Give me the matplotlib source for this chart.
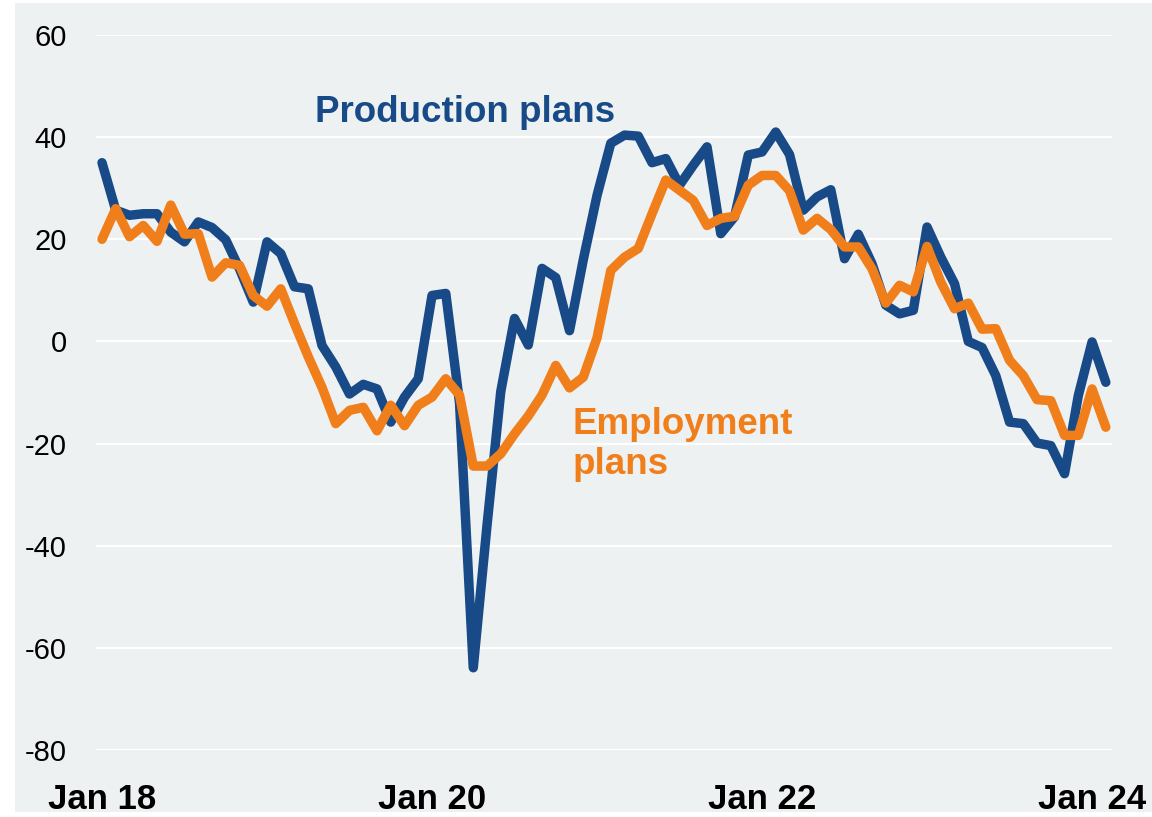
import numpy as np
import matplotlib
matplotlib.use('Agg')
import matplotlib.pyplot as plt
from matplotlib.patches import Rectangle

# Monthly balances, Jan 2018 - Feb 2024
production = [35.0, 25.7, 24.7, 25.0, 25.0, 21.4, 19.5, 23.4, 22.3, 19.9, 14.2, 7.7,
              19.5, 17.2, 10.7, 10.3, -0.8, -5.0, -10.3, -8.4, -9.3, -15.8, -10.9, -7.3,
              9.0, 9.4, -12.0, -63.9, -36.0, -9.8, 4.5, -0.7, 14.3, 12.5, 2.1, 16.0,
              28.6, 38.8, 40.4, 40.2, 35.0, 35.8, 30.6, 34.5, 38.1, 21.1, 24.4, 36.5,
              37.1, 41.0, 36.6, 25.7, 28.3, 29.7, 16.2, 21.0, 15.2, 7.1, 5.4, 6.1,
              22.4, 16.5, 11.3, 0.0, -1.2, -6.7, -15.8, -16.1, -19.9, -20.4, -25.9, -10.6,
              -0.1, -8.0]
employment = [20.0, 26.0, 20.5, 22.7, 19.6, 26.7, 21.0, 21.1, 12.6, 15.4, 14.9, 9.0,
              6.9, 10.3, 3.5, -3.0, -9.0, -16.1, -13.5, -12.9, -17.5, -12.5, -16.5, -12.5,
              -10.9, -7.3, -10.5, -24.4, -24.4, -22.0, -18.1, -14.6, -10.5, -4.7, -9.1, -7.0,
              0.7, 13.9, 16.5, 18.2, 25.0, 31.6, 29.6, 27.6, 22.7, 24.1, 24.5, 30.6,
              32.5, 32.5, 29.5, 21.8, 24.1, 21.9, 18.5, 18.5, 14.2, 7.5, 11.0, 9.7,
              18.6, 11.6, 6.4, 7.5, 2.4, 2.5, -3.7, -6.7, -11.4, -11.6, -18.4, -18.4,
              -9.3, -16.8]

tick_pos = [0, 24, 48, 72]
tick_labels = ['Jan 18', 'Jan 20', 'Jan 22', 'Jan 24']
y_ticks = [-80, -60, -40, -20, 0, 20, 40, 60]

BLUE = '#174a87'
ORANGE = '#f07f1b'
BG = '#edf1f2'

plt.rcParams['font.family'] = ['Liberation Sans', 'DejaVu Sans']
plt.rcParams['axes.unicode_minus'] = False

fig = plt.figure(figsize=(11.52, 8.17), dpi=100)
fig.patches.append(Rectangle((15 / 1152, 5 / 817), 1 - 15 / 1152, 1 - 8 / 817,
                             transform=fig.transFigure, facecolor=BG,
                             edgecolor='none', zorder=-10))
ax = fig.add_axes([96 / 1152, 67 / 817, 1016 / 1152, 715 / 817])
ax.set_zorder(1)
ax.set_facecolor(BG)

x = np.arange(len(production))

ax.set_yticks(y_ticks)
ax.grid(axis='y', color='white', linewidth=1.6, zorder=0)
ax.axhline(0, color='#222222', linewidth=1.1, zorder=1)

ax.plot(x, production, color=BLUE, linewidth=6.8, solid_capstyle='round',
        solid_joinstyle='round', zorder=3, clip_on=False)
ax.plot(x, employment, color=ORANGE, linewidth=6.8, solid_capstyle='round',
        solid_joinstyle='round', zorder=4, clip_on=False)

ax.text(15.5, 42.9, 'Production plans', color=BLUE, fontsize=26.5,
        fontweight='bold', ha='left', va='baseline')
ax.text(34.25, -12.8, 'Employment\nplans', color=ORANGE, fontsize=26.5,
        fontweight='bold', ha='left', va='top')

ax.set_xlim(-0.436, 73.45)
ax.set_ylim(-80, 60)
ax.set_xticks(tick_pos)
ax.set_xticklabels(tick_labels, fontsize=25, fontweight='bold')
ax.tick_params(axis='x', length=0, pad=24)
ax.tick_params(axis='y', length=0, pad=21, labelsize=21)
for s in ax.spines.values():
    s.set_visible(False)

fig.savefig('out.png', dpi=100)
